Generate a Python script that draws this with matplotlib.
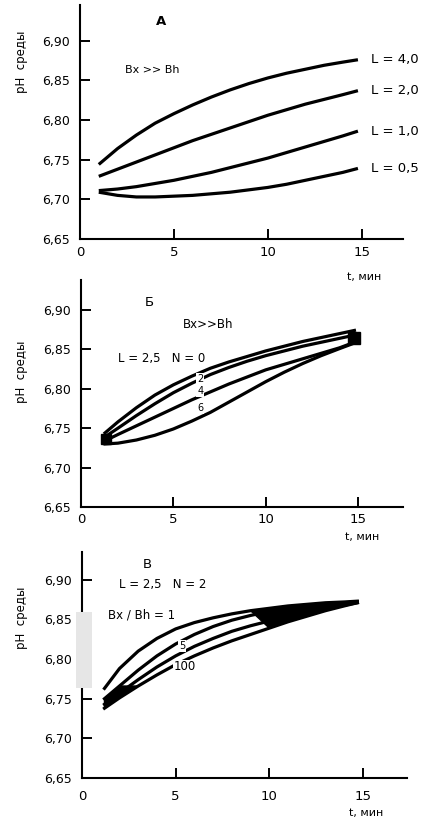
import matplotlib
matplotlib.use("Agg")
import matplotlib.pyplot as plt
from matplotlib.patches import Rectangle, Polygon

plt.rcParams['font.family'] = ['DejaVu Sans']

# ---- panel А: pH vs time for several L (Bx >> Bh)
t_a = [1, 2, 3, 4, 5, 6, 7, 8, 9, 10, 11, 12, 13, 14, 14.8]
ph_a_L40 = [6.744, 6.764, 6.781, 6.796, 6.808, 6.819, 6.829, 6.838, 6.846, 6.853, 6.859, 6.864, 6.869, 6.873, 6.876]
ph_a_L20 = [6.729, 6.738, 6.747, 6.756, 6.765, 6.774, 6.782, 6.790, 6.798, 6.806, 6.813, 6.820, 6.826, 6.832, 6.837]
ph_a_L10 = [6.711, 6.713, 6.716, 6.720, 6.724, 6.729, 6.734, 6.740, 6.746, 6.752, 6.759, 6.766, 6.773, 6.780, 6.786]
ph_a_L05 = [6.709, 6.705, 6.703, 6.703, 6.704, 6.705, 6.707, 6.709, 6.712, 6.715, 6.719, 6.724, 6.729, 6.734, 6.739]
labels_a = ["L = 4,0", "L = 2,0", "L = 1,0", "L = 0,5"]

# ---- panel Б: L = 2,5, curves for N
t_b = [1.3, 2, 3, 4, 5, 6, 7, 8, 9, 10, 11, 12, 13, 14, 14.8]
ph_b_N0 = [6.744, 6.758, 6.776, 6.792, 6.805, 6.816, 6.826, 6.834, 6.841, 6.848, 6.854, 6.860, 6.865, 6.870, 6.874]
ph_b_N2 = [6.739, 6.750, 6.766, 6.781, 6.795, 6.807, 6.818, 6.827, 6.835, 6.842, 6.848, 6.854, 6.859, 6.864, 6.868]
ph_b_N4 = [6.734, 6.742, 6.753, 6.764, 6.775, 6.786, 6.796, 6.806, 6.815, 6.824, 6.831, 6.838, 6.845, 6.852, 6.859]
ph_b_N6 = [6.730, 6.731, 6.735, 6.741, 6.749, 6.759, 6.770, 6.783, 6.796, 6.809, 6.821, 6.832, 6.842, 6.851, 6.858]
labels_b = ["2", "4", "6"]

# ---- panel В: L = 2,5, N = 2, curves for Bx/Bh
t_c = [1.2, 2, 3, 4, 5, 6, 7, 8, 9, 10, 11, 12, 13, 14, 14.7]
ph_c_r1 = [6.763, 6.788, 6.810, 6.826, 6.838, 6.846, 6.852, 6.857, 6.861, 6.864, 6.867, 6.869, 6.871, 6.872, 6.873]
ph_c_r2 = [6.750, 6.766, 6.786, 6.804, 6.819, 6.831, 6.841, 6.849, 6.855, 6.860, 6.864, 6.867, 6.869, 6.871, 6.872]
ph_c_r5 = [6.743, 6.757, 6.774, 6.790, 6.804, 6.816, 6.826, 6.835, 6.842, 6.848, 6.854, 6.859, 6.864, 6.868, 6.871]
ph_c_r100 = [6.738, 6.751, 6.766, 6.780, 6.793, 6.804, 6.814, 6.823, 6.831, 6.839, 6.847, 6.854, 6.861, 6.867, 6.871]
labels_c = ["5", "100"]

yticks = [6.65, 6.70, 6.75, 6.80, 6.85, 6.90]
ytick_labels = ["6,65", "6,70", "6,75", "6,80", "6,85", "6,90"]
xticks = [0, 5, 10, 15]
xtick_labels = ["0", "5", "10", "15"]

LW = 2.3
W, H = 425, 824


def px_rect(left, top, right, bottom):
    return [left / W, 1 - bottom / H, (right - left) / W, (bottom - top) / H]


fig = plt.figure(figsize=(W / 100, H / 100), dpi=100)


def style_axes(ax, xmax, ymax, xpad):
    ax.set_xlim(0, xmax)
    ax.set_ylim(6.65, ymax)
    for s in ("top", "right"):
        ax.spines[s].set_visible(False)
    for s in ("left", "bottom"):
        ax.spines[s].set_linewidth(1.5)
    ax.set_yticks(yticks)
    ax.set_yticklabels(ytick_labels, fontsize=9)
    ax.set_xticks(xticks)
    ax.set_xticklabels(xtick_labels, fontsize=9.5)
    ax.tick_params(axis="both", direction="in", length=7, width=1.4)
    ax.tick_params(axis="y", pad=7)
    ax.tick_params(axis="x", pad=xpad)
    ax.patch.set_alpha(0)


# Panel А
ax1 = fig.add_axes(px_rect(80, 5, 403, 239))
style_axes(ax1, 17.2, 6.945, 5)
for series, lab in zip([ph_a_L40, ph_a_L20, ph_a_L10, ph_a_L05], labels_a):
    ax1.plot(t_a, series, color="black", lw=LW, solid_capstyle="butt")
    ax1.text(t_a[-1] + 0.7, series[-1], lab, fontsize=9.5, va="center", ha="left")
ax1.text(4.3, 6.924, "А", fontsize=9.5, fontweight="bold", ha="center", va="center")
ax1.text(2.4, 6.863, "Bx >> Bh", fontsize=8, ha="left", va="center")

# Panel Б
ax2 = fig.add_axes(px_rect(81, 280, 403, 507))
style_axes(ax2, 17.43, 6.938, 4)
curves_b = [ph_b_N0, ph_b_N2, ph_b_N4, ph_b_N6]
for series in curves_b:
    ax2.plot(t_b, series, color="black", lw=LW)
ax2.plot([t_b[0] + 0.05], [sum(s[0] for s in curves_b) / 4], marker="s", ms=7, color="black")
ax2.plot([t_b[-1]], [sum(s[-1] for s in curves_b) / 4], marker="s", ms=9, color="black")
for lab, ypos in zip(labels_b, [6.813, 6.797, 6.776]):
    ax2.text(6.45, ypos, lab, fontsize=7, ha="center", va="center",
             bbox=dict(facecolor="white", edgecolor="none", pad=0.6))
ax2.text(3.7, 6.909, "Б", fontsize=9.5, ha="center", va="center")
ax2.text(5.5, 6.881, "Bx>>Bh", fontsize=8.5, ha="left", va="center")
ax2.text(2.0, 6.839, "L = 2,5   N = 0", fontsize=8.5, ha="left", va="center")

# Panel В
ax3 = fig.add_axes(px_rect(82, 552, 407, 778))
style_axes(ax3, 17.35, 6.935, 9)
for series in [ph_c_r1, ph_c_r2, ph_c_r5, ph_c_r100]:
    ax3.plot(t_c, series, color="black", lw=LW)
# converging bundles drawn solid at both ends
left_wedge = [(t_c[i], ph_c_r2[i]) for i in range(2)] + \
             [(t_c[i], ph_c_r100[i]) for i in (2, 1, 0)]
right_wedge = [(t_c[i], ph_c_r1[i]) for i in range(8, len(t_c))] + \
              [(t_c[i], ph_c_r100[i]) for i in range(len(t_c) - 1, 8, -1)]
for poly in (left_wedge, right_wedge):
    ax3.add_patch(Polygon(poly, closed=True, facecolor="black", edgecolor="black", lw=1))
ax3.text(5.35, 6.816, labels_c[0], fontsize=7, ha="center", va="center",
         bbox=dict(facecolor="white", edgecolor="none", pad=0.6))
ax3.text(5.5, 6.790, labels_c[1], fontsize=8.5, ha="center", va="center",
         bbox=dict(facecolor="white", edgecolor="none", pad=0.3))
ax3.text(3.47, 6.919, "В", fontsize=9.5, ha="center", va="center")
ax3.text(2.0, 6.894, "L = 2,5   N = 2", fontsize=8.5, ha="left", va="center")
ax3.text(1.4, 6.856, "Bx / Bh = 1", fontsize=8.5, ha="left", va="center")

# axis titles
for yc in (62, 372, 618):
    fig.text(22 / W, 1 - yc / H, "pH  среды", rotation=90, fontsize=8.5,
             ha="center", va="center")
for xc, yc in ((364, 277), (362, 537), (366, 813)):
    fig.text(xc / W, 1 - yc / H, "t, мин", fontsize=8, ha="center", va="center")

# faint scanner streak beside the lower axis
fig.patches.append(Rectangle((76 / W, 1 - 688 / H), 16 / W, 76 / H,
                             transform=fig.transFigure, color="#e6e6e6",
                             zorder=0, lw=0))

fig.savefig("out.png", dpi=100)
